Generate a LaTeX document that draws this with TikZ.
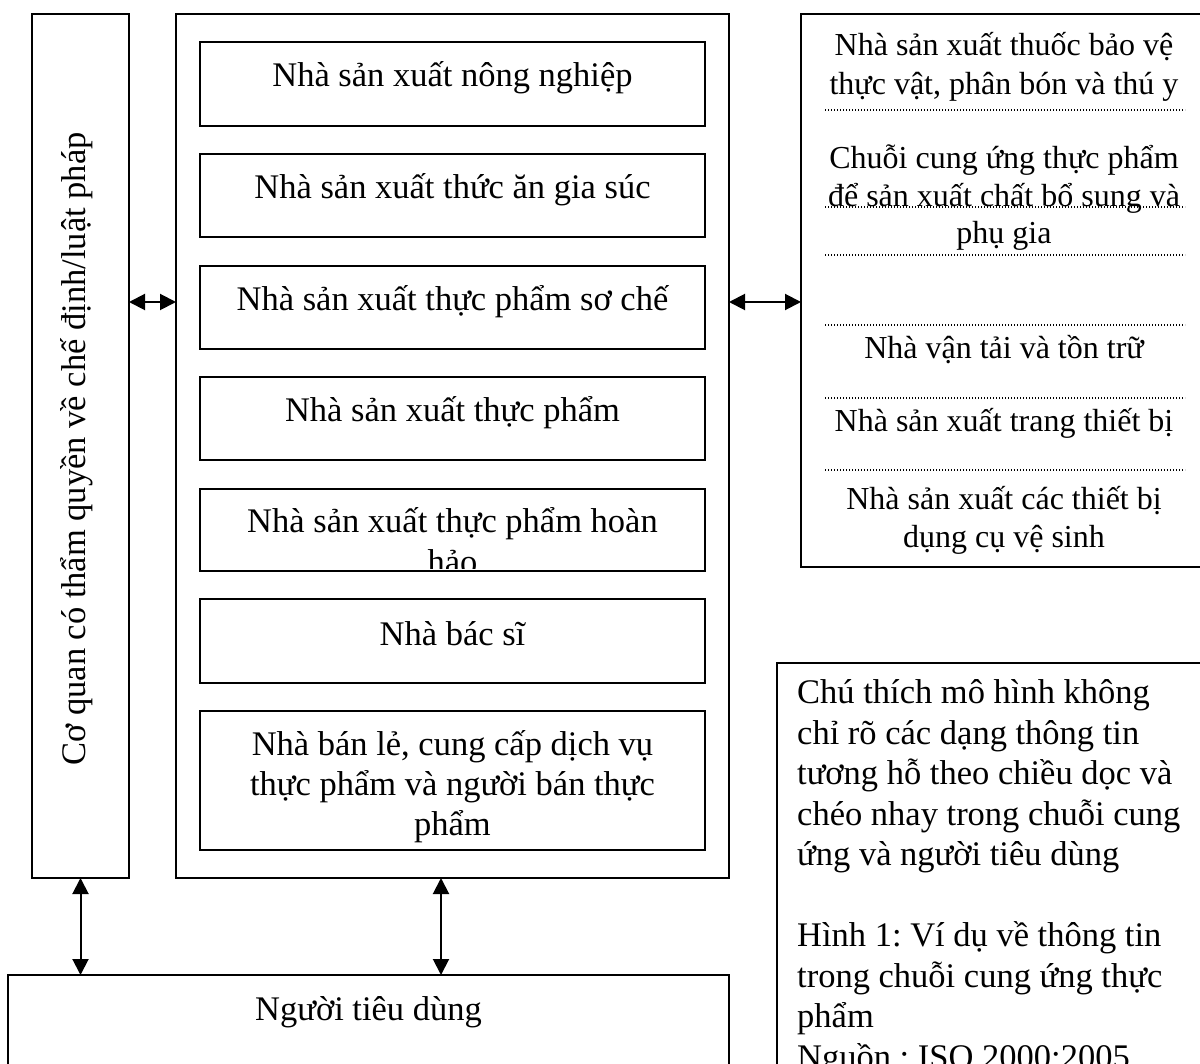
\documentclass[tikz,border=0pt]{standalone}
\usepackage{fontspec}
\setmainfont{Liberation Serif}
\usetikzlibrary{arrows.meta}
\frenchspacing

\begin{document}
\begin{tikzpicture}[x=1pt,y=-1pt,
  box/.style={draw, line width=2pt, inner sep=0pt, outer sep=0pt},
  txt/.style={font=\fontsize{34.5}{40}\selectfont, inner sep=0pt, align=center, anchor=base},
  sidetxt/.style={font=\fontsize{32}{38}\selectfont, inner sep=0pt, align=center, anchor=base},
  notetxt/.style={font=\fontsize{34.5}{40.5}\selectfont, inner sep=0pt, align=left, anchor=base west},
  sep/.style={line width=1.4pt, dash pattern=on 1.4pt off 1.6pt},
  link/.style={line width=2pt, {Triangle[length=16pt,width=16pt]}-{Triangle[length=16pt,width=16pt]}}
]
\useasboundingbox (0,0) rectangle (1200,1064);
\clip (0,0) rectangle (1200,1064);

% outer frames
\node[box, minimum width=97, minimum height=864] (auth) at (80.5,446) {};
\node[box, minimum width=553, minimum height=864] (chain) at (452.5,446) {};
\node[box, minimum width=419, minimum height=553] (support) at (1010.5,290.5) {};
\node[box, minimum width=443, minimum height=437] (note) at (998.5,881.5) {};
\node[box, minimum width=721, minimum height=125] (consumer) at (368.5,1037.5) {};

% actors of the chain
\node[box, minimum width=505, minimum height=84] (b1) at (452.5,84) {};
\node[box, minimum width=505, minimum height=83] (b2) at (452.5,195.5) {};
\node[box, minimum width=505, minimum height=83] (b3) at (452.5,307.5) {};
\node[box, minimum width=505, minimum height=83] (b4) at (452.5,418.5) {};
\node[box, minimum width=505, minimum height=82] (b5) at (452.5,530) {};
\node[box, minimum width=505, minimum height=84] (b6) at (452.5,641) {};
\node[box, minimum width=505, minimum height=139] (b7) at (452.5,780.5) {};

% (multi-line labels are placed by the baseline of their last line)
\node[txt] (t1) at (452.5,87) {Nhà sản xuất nông nghiệp};
\node[txt] (t2) at (452.5,199) {Nhà sản xuất thức ăn gia súc};
\node[txt] (t3) at (452.5,311) {Nhà sản xuất thực phẩm sơ chế};
\node[txt] (t4) at (452.5,422) {Nhà sản xuất thực phẩm};
\begin{scope}
  \clip (200,489) rectangle (705,568);
  \node[txt, font=\fontsize{34.5}{41}\selectfont] (t5) at (452.5,573) {Nhà sản xuất thực phẩm hoàn\\hảo};
\end{scope}
\node[txt] (t6) at (452.5,645) {Nhà bác sĩ};
\node[txt] (t7) at (452.5,835) {Nhà bán lẻ, cung cấp dịch vụ\\thực phẩm và người bán thực\\phẩm};

% authority label
\node[txt, rotate=90] (tauth) at (85,449) {Cơ quan có thẩm quyền về chế định/luật pháp};

% supporting organisations
\node[sidetxt, font=\fontsize{32}{39}\selectfont] (s1) at (1004,95) {Nhà sản xuất thuốc bảo vệ\\thực vật, phân bón và thú y};
\node[sidetxt, font=\fontsize{32}{37.5}\selectfont] (s2) at (1004,244) {Chuỗi cung ứng thực phẩm\\để sản xuất chất bổ sung và\\phụ gia};
\node[sidetxt] (s3) at (1004,359) {Nhà vận tải và tồn trữ};
\node[sidetxt] (s4) at (1004,432) {Nhà sản xuất trang thiết bị};
\node[sidetxt] (s5) at (1004,547) {Nhà sản xuất các thiết bị\\dụng cụ vệ sinh};

\foreach \yy in {110,207,255,325,398,470}
  \draw[sep] (825,\yy) -- (1185,\yy);

% consumer and note
\node[txt] (tcons) at (368.5,1020) {Người tiêu dùng};
\node[notetxt] (tnote) at (797,1068) {Chú thích mô hình không\\chỉ rõ các dạng thông tin\\tương hỗ theo chiều dọc và\\chéo nhay trong chuỗi cung\\ứng và người tiêu dùng\\[40.5pt]Hình 1: Ví dụ về thông tin\\trong chuỗi cung ứng thực\\phẩm\\Nguồn : ISO 2000:2005};

% information flows
\coordinate (lv) at (0,302);
\coordinate (vx) at (441,0);
\draw[link] (auth.east |- lv) -- (chain.west |- lv);
\draw[link] (chain.east |- lv) -- (support.west |- lv);
\draw[link] (auth.south) -- (auth.south |- consumer.north);
\draw[link] (chain.south -| vx) -- (consumer.north -| vx);
\end{tikzpicture}
\end{document}
